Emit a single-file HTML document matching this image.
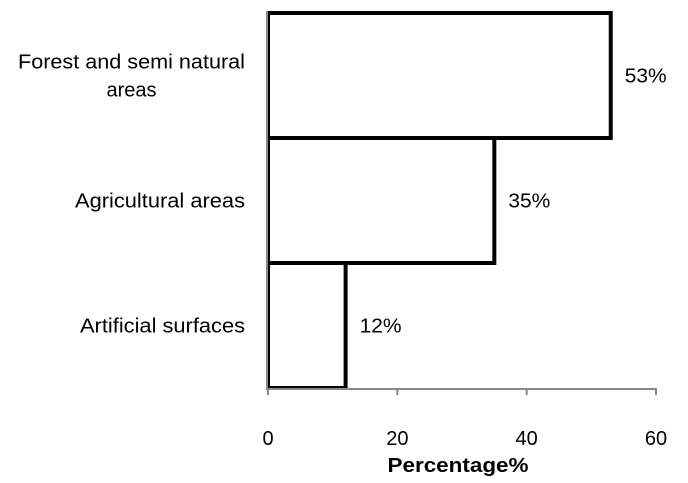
<!DOCTYPE html>
<html><head><meta charset="utf-8"><style>
html,body{margin:0;padding:0;background:#fff;}
svg{display:block;font-family:"Liberation Sans",sans-serif;}
</style></head><body>
<svg id="chart" width="688" height="483" viewBox="0 0 688 483" xmlns="http://www.w3.org/2000/svg">
<g id="bars"></g>
<g id="axes"></g>
<text x="458" y="472" text-anchor="middle" font-size="20" font-weight="bold" textLength="141" lengthAdjust="spacingAndGlyphs">Percentage%</text>
</svg>
<script>
const categories = ["Forest and semi natural areas", "Agricultural areas", "Artificial surfaces"];
const catLines = [["Forest and semi natural", "areas"], ["Agricultural areas"], ["Artificial surfaces"]];
const catLineWidths = [[227, 50], [170], [165]];
const values = [53, 35, 12];
const valueLabels = ["53%", "35%", "12%"];
const xTicks = [0, 20, 40, 60];

const NS = "http://www.w3.org/2000/svg";
const X0 = 268, X1 = 656, Y0 = 13, Y1 = 388;
const xs = v => X0 + (v - 0) / 60 * (X1 - X0);
const band = (Y1 - Y0) / categories.length;
const ys = i => Y0 + i * band;
function mk(tag, attrs, parent){const e=document.createElementNS(NS,tag);for(const k in attrs)e.setAttribute(k,attrs[k]);parent.appendChild(e);return e;}
const bars = document.getElementById('bars'), axes = document.getElementById('axes'), svg = document.getElementById('chart');

categories.forEach((c, i) => {
  const r = mk('rect', {x: xs(0), y: ys(i), width: xs(values[i]) - xs(0), height: band, fill: '#fff', stroke: '#000', 'stroke-width': 4}, bars);
  
  
  const t = mk('text', {x: xs(values[i]) + 14, y: ys(i) + band / 2 + 7, 'font-size': 20, textLength: 42, lengthAdjust: 'spacingAndGlyphs'}, svg);
  t.textContent = valueLabels[i];
  
  
  const lines = catLines[i];
  const cy = ys(i) + band / 2 - (lines.length - 1) * 14 + 7;
  const maxW = Math.max(...catLineWidths[i]);
  lines.forEach((ln, j) => {
    const lt = mk('text', {x: 245 - maxW / 2, y: cy + j * 28, 'font-size': 20, 'text-anchor': 'middle', textLength: catLineWidths[i][j], lengthAdjust: 'spacingAndGlyphs'}, svg);
    lt.textContent = ln;
    
    
  });
});
const yl = mk('line', {x1: X0 - 1, y1: Y0 - 2, x2: X0 - 1, y2: Y1, stroke: '#888', 'stroke-width': 2}, axes);


const xl = mk('line', {x1: X0 - 2, y1: Y1 + 1, x2: X1 + 1, y2: Y1 + 1, stroke: '#888', 'stroke-width': 2}, axes);


xTicks.forEach(v => {
  const tk = mk('line', {x1: xs(v), y1: Y1, x2: xs(v), y2: Y1 + 7, stroke: '#888', 'stroke-width': 2}, axes);
  
  
  const tl = mk('text', {x: xs(v), y: 445, 'font-size': 20, 'text-anchor': 'middle'}, svg);
  tl.textContent = v;
  
  
});
</script>
</body></html>
